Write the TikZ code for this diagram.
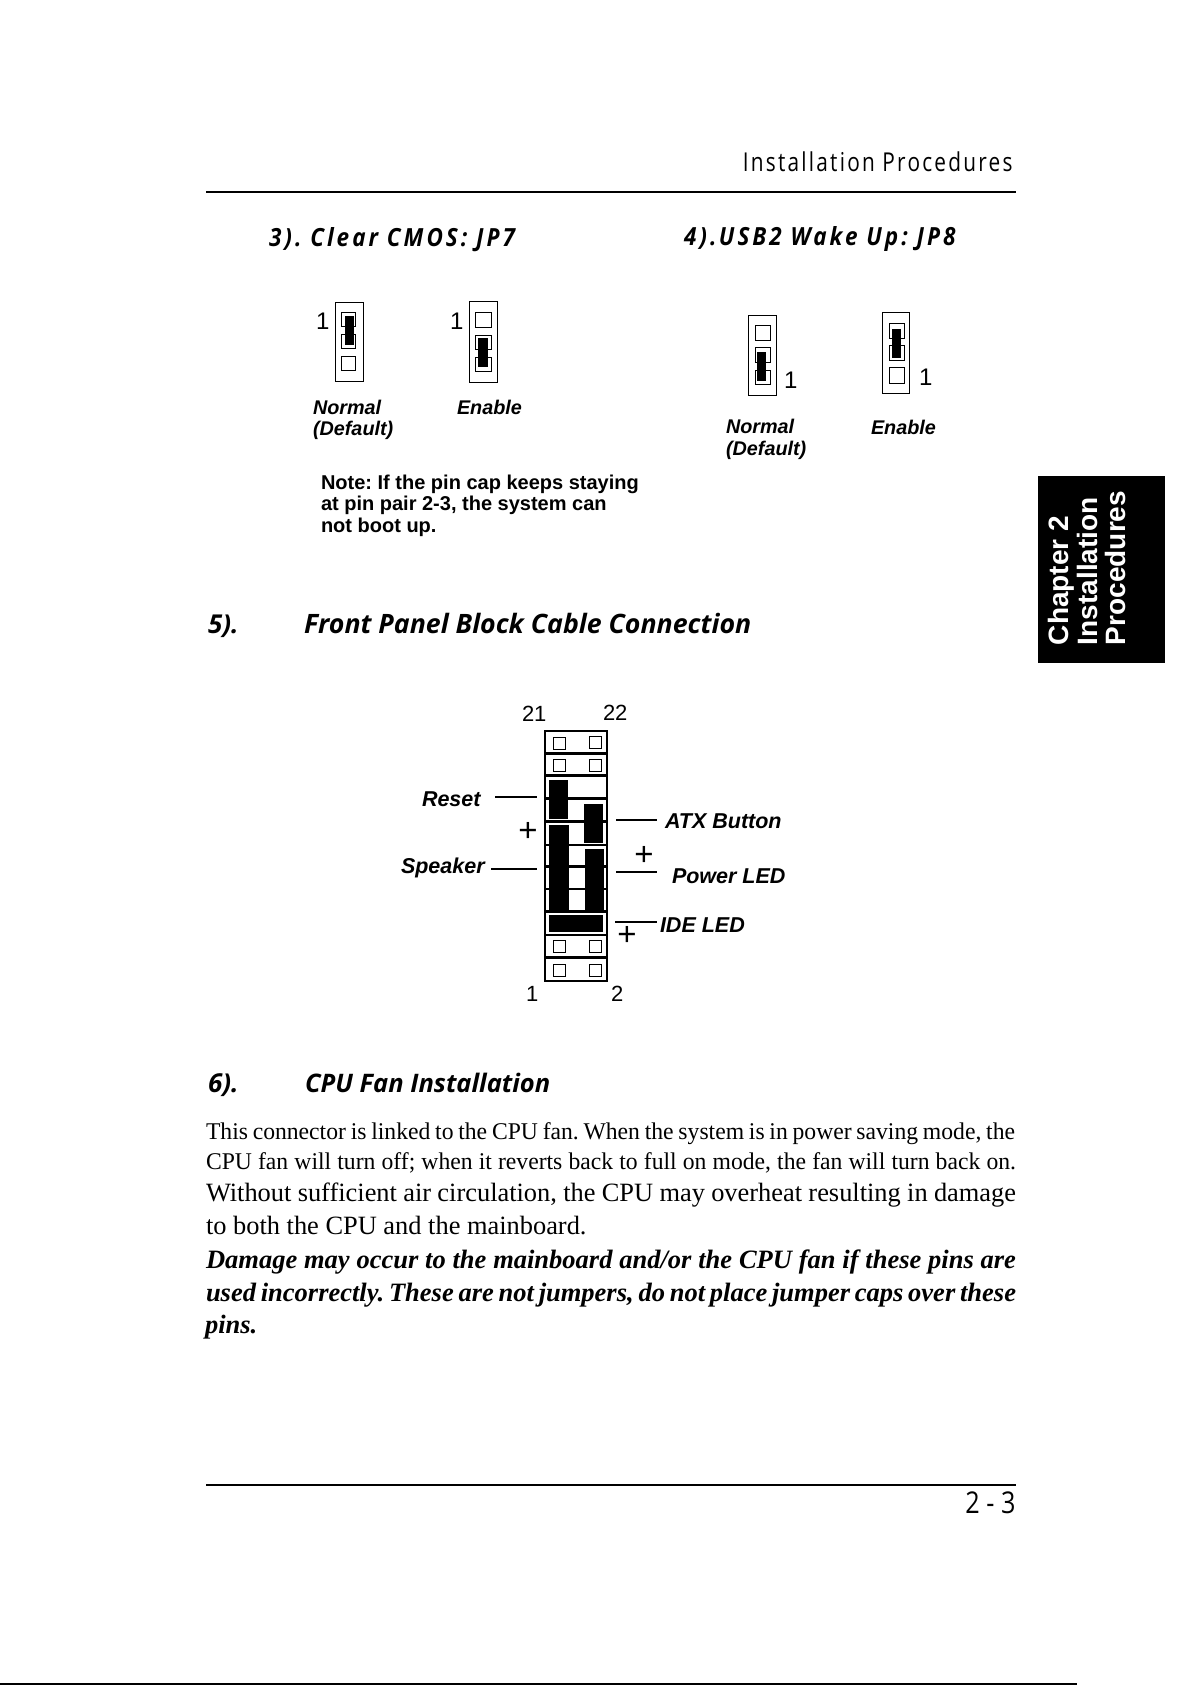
\documentclass[tikz,border=0pt]{standalone}
\usepackage{fontspec}
\setmainfont{Liberation Serif}
\newfontfamily\armfont{Liberation Sans}
\newfontfamily\runfont[FakeStretch=0.80,LetterSpace=8.6]{Open Sans}
\newfontfamily\pagefont[FakeStretch=0.84]{Open Sans}
\newfontfamily\partfont{Open Sans}
\newfontfamily\jpfont[FakeStretch=0.90,LetterSpace=12]{Open Sans}
\newfontfamily\tightserif[FakeStretch=0.985]{Liberation Serif}
\frenchspacing
\begin{document}
\begin{tikzpicture}[x=1pt,y=-1pt,
  txt/.style={anchor=base west,inner sep=0pt,outer sep=0pt},
  txtr/.style={anchor=base east,inner sep=0pt,outer sep=0pt},
  pinno/.style={txt,font=\armfont\fontsize{22}{24}\selectfont},
  jumpno/.style={txt,font=\armfont\fontsize{24}{26}\selectfont},
  capt/.style={txt,font=\armfont\bfseries\itshape\fontsize{19.8}{22}\selectfont},
  notetxt/.style={txt,font=\armfont\bfseries\fontsize{20}{22}\selectfont},
  lead/.style={txt,font=\armfont\bfseries\itshape\fontsize{21.5}{24}\selectfont},
  plussign/.style={inner sep=0pt,outer sep=0pt,font=\armfont\fontsize{33}{36}\selectfont},
  jphead/.style={txt,font=\jpfont\bfseries\itshape\fontsize{25}{27}\selectfont},
  parthead/.style={txt,font=\partfont\bfseries\itshape\fontsize{26}{28}\selectfont},
  tabtxt/.style={txt,rotate=90,text=white,font=\armfont\bfseries\fontsize{28}{30}\selectfont},
  bodysmall/.style={txt,font=\tightserif\fontsize{24}{26}\selectfont},
  bodylarge/.style={txt,font=\fontsize{26.4}{28}\selectfont},
  bodybold/.style={txt,font=\bfseries\itshape\fontsize{26.5}{28}\selectfont},
  jbox/.style={draw=black,line width=0.9pt},
  pinbox/.style={draw=black,line width=0.9pt},
  headbar/.style={draw=black,line width=2.5pt},
  leadline/.style={draw=black,line width=1.8pt},
  rulebar/.style={draw=black,line width=2pt}]
\useasboundingbox (0,0) rectangle (1192,1685);
\node[txtr,font=\runfont\fontsize{26}{28}\selectfont] (runhead) at (1012.5,172) {Installation Procedures};
\draw[rulebar] (206,192) -- (1016,192);
\node[jphead] (headthree) at (269,247) {3). Clear CMOS: JP7};
\node[jphead] (headfour) at (684,246) {4).USB2 Wake Up: JP8};
\draw[jbox] (335,302) rectangle (363,381);
\draw[pinbox] (341,312) rectangle (355,326);
\draw[pinbox] (341,334) rectangle (355,348);
\draw[pinbox] (341,356) rectangle (355,370);
\fill[black] (345,316) rectangle (354,345);
\node[jumpno] (onea) at (316,329) {1};
\draw[jbox] (469,301) rectangle (497,382);
\draw[pinbox] (475,312) rectangle (491,327);
\draw[pinbox] (475,335) rectangle (491,349);
\draw[pinbox] (475,357) rectangle (491,371);
\fill[black] (478,338) rectangle (488,367);
\node[jumpno] (oneb) at (450,329) {1};
\draw[jbox] (748,315) rectangle (776,395);
\draw[pinbox] (755,325) rectangle (770,340);
\draw[pinbox] (755,347) rectangle (770,362);
\draw[pinbox] (755,370) rectangle (770,384);
\fill[black] (757,352) rectangle (766,381);
\node[jumpno] (onec) at (784,388) {1};
\draw[jbox] (882,312) rectangle (909,393);
\draw[pinbox] (889,323) rectangle (904,338);
\draw[pinbox] (889,345) rectangle (904,360);
\draw[pinbox] (889,367) rectangle (904,383);
\fill[black] (892,329) rectangle (901,358);
\node[jumpno] (oned) at (919,385) {1};
\node[capt] (normala) at (313,414) {Normal};
\node[capt] (defaulta) at (313,435) {(Default)};
\node[capt] (enablea) at (457,414) {Enable};
\node[capt] (normalb) at (726,433) {Normal};
\node[capt] (defaultb) at (726,455) {(Default)};
\node[capt] (enableb) at (871,434) {Enable};
\node[notetxt] (notea) at (321,489) {Note: If the pin cap keeps staying};
\node[notetxt] (noteb) at (321,510) {at pin pair 2-3, the system can};
\node[notetxt] (notec) at (321,532) {not boot up.};
\fill[black] (1038,476) rectangle (1165,663);
\node[tabtxt] (tabchapter) at (1068,645) {Chapter 2};
\node[tabtxt] (tabinstall) at (1097,645) {Installation};
\node[tabtxt] (tabproc) at (1125,645) {Procedures};
\node[parthead] (fivenum) at (208,633) {5).};
\node[parthead] (fivehead) at (304,633) {\fontsize{26.7}{28}\selectfont Front Panel Block Cable Connection};
\node[pinno] (ntwentyone) at (522,721) {21};
\node[pinno] (ntwentytwo) at (603,720) {22};
\node[pinno] (nfirst) at (526,1001) {1};
\node[pinno] (nsecond) at (611,1001) {2};
\draw[headbar] (545,731) rectangle (607,981);
\draw[headbar] (545,753.3) -- (607,753.3) (545,775.7) -- (607,775.7) (545,798.3) -- (607,798.3) (545,821.7) -- (607,821.7) (545,845) -- (607,845) (545,866.7) -- (607,866.7) (545,889) -- (607,889) (545,911.7) -- (607,911.7) (545,935) -- (607,935) (545,957.7) -- (607,957.7);
\draw[pinbox] (553.5,737) rectangle (565,749);
\draw[pinbox] (589.5,736) rectangle (601,748);
\draw[pinbox] (553.5,759) rectangle (565,771);
\draw[pinbox] (589.5,759) rectangle (601,771);
\draw[pinbox] (553.5,940) rectangle (565,952);
\draw[pinbox] (589.5,940) rectangle (601,952);
\draw[pinbox] (553.5,964) rectangle (565,976);
\draw[pinbox] (589.5,964) rectangle (601,976);
\fill[black] (549,780) rectangle (568,819);
\fill[black] (584,804) rectangle (603,843);
\fill[black] (549,825) rectangle (569,910);
\fill[black] (585,849) rectangle (604,912);
\fill[black] (549,915) rectangle (603,932);
\node[lead] (resetlab) at (422,806) {Reset};
\node[lead] (speakerlab) at (401,873) {Speaker};
\node[lead] (atxlab) at (665,828) {ATX Button};
\node[lead] (powerlab) at (672,883) {Power LED};
\node[lead] (idelab) at (660,932) {IDE LED};
\coordinate (resetstart) at (495,797);
\coordinate (resetend) at (537,797);
\coordinate (speakerstart) at (491,869);
\coordinate (speakerend) at (537,869);
\coordinate (atxstart) at (616,820);
\coordinate (atxend) at (657,820);
\coordinate (powerstart) at (616,872);
\coordinate (powerend) at (657,872);
\coordinate (idestart) at (615,922);
\coordinate (ideend) at (657,922);
\draw[leadline] (resetstart) -- (resetend);
\draw[leadline] (speakerstart) -- (speakerend);
\draw[leadline] (atxstart) -- (atxend);
\draw[leadline] (powerstart) -- (powerend);
\draw[leadline] (idestart) -- (ideend);
\node[plussign] (plusreset) at (528,832) {+};
\node[plussign] (pluspower) at (644,856) {+};
\node[plussign] (pluside) at (627,936) {+};
\node[parthead] (sixnum) at (208,1092) {6).};
\node[parthead] (sixhead) at (305,1092) {\fontsize{25.5}{28}\selectfont CPU Fan Installation};
\node[bodysmall] (linea) at (206,1139) {\makebox[809pt][s]{This connector is linked to the CPU fan. When the system is in power saving mode, the}};
\node[bodysmall] (lineb) at (206,1169) {\makebox[810pt][s]{CPU fan will turn off; when it reverts back to full on mode, the fan will turn back on.}};
\node[bodylarge] (linec) at (206,1201) {\makebox[810pt][s]{Without sufficient air circulation, the CPU may overheat resulting in damage}};
\node[bodylarge] (lined) at (206,1234) {to both the CPU and the mainboard.};
\node[bodybold] (linee) at (206,1268) {\makebox[810pt][s]{Damage may occur to the mainboard and/or the CPU fan if these pins are}};
\node[bodybold] (linef) at (206,1301) {\makebox[810pt][s]{used incorrectly. These are not jumpers, do not place jumper caps over these}};
\node[bodybold] (lineg) at (205,1333) {pins.};
\draw[rulebar] (206,1485) -- (1016,1485);
\node[txtr,font=\pagefont\fontsize{30}{32}\selectfont] (pageno) at (1015.5,1513) {2 - 3};
\draw[line width=1.6pt] (0,1684.2) -- (1077,1684.2);
\end{tikzpicture}
\end{document}
